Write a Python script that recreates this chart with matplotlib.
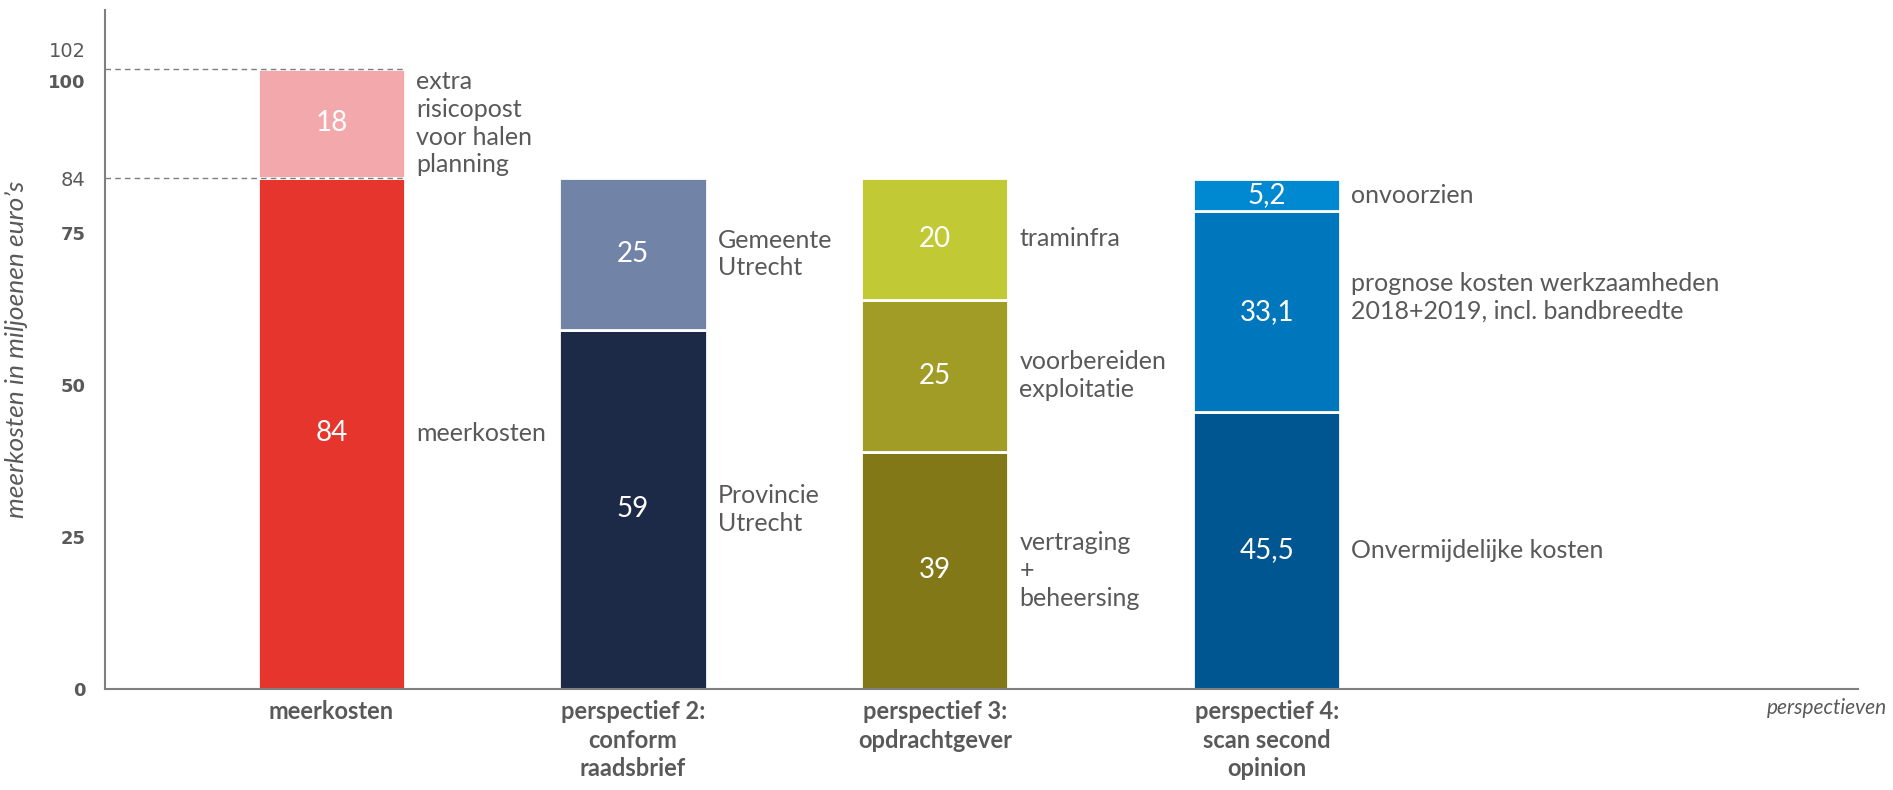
import numpy as np
import matplotlib.pyplot as plt

plt.close("all")

# categories on the x axis
categories = ["meerkosten", "perspectief 2:\nconform\nraadsbrief",
              "perspectief 3:\nopdrachtgever", "perspectief 4:\nscan second\nopinion"]

# stacked segments per bar (bottom -> top)
vals_meer = [84, 18]
vals_p2 = [59, 25]
vals_p3 = [39, 25, 20]
vals_p4 = [45.5, 33.1, 5.2]

txt_meer = ["84", "18"]
txt_p2 = ["59", "25"]
txt_p3 = ["39", "25", "20"]
txt_p4 = ["45,5", "33,1", "5,2"]

lab_meer = ["meerkosten", "extra\nrisicopost\nvoor halen\nplanning"]
lab_p2 = ["Provincie\nUtrecht", "Gemeente\nUtrecht"]
lab_p3 = ["vertraging\n+\nbeheersing", "voorbereiden\nexploitatie", "traminfra"]
lab_p4 = ["Onvermijdelijke kosten", "prognose kosten werkzaamheden\n2018+2019, incl. bandbreedte", "onvoorzien"]

col_meer = ["#E5352D", "#F3A8AB"]
col_p2 = ["#1C2A47", "#7283A8"]
col_p3 = ["#837817", "#A09C25", "#C1C935"]
col_p4 = ["#005691", "#0077BC", "#0088D1"]

yticks = [0, 25, 50, 75, 84, 100]
ref_lines = [84, 102]

xpos = [0, 1, 2, 3.1]
width = 0.488
grey = "#595959"
lab_font = "Lato"

fig = plt.figure(figsize=(18.93, 7.9), dpi=100)
ax = fig.add_axes([0.0555, 0.128, 0.926, 0.859])

bars = [(vals_meer, txt_meer, lab_meer, col_meer),
        (vals_p2, txt_p2, lab_p2, col_p2),
        (vals_p3, txt_p3, lab_p3, col_p3),
        (vals_p4, txt_p4, lab_p4, col_p4)]

for x, (vals, txts, labs, cols) in zip(xpos, bars):
    bottom = 0
    for v, t, l, c in zip(vals, txts, labs, cols):
        ax.bar(x, v, width, bottom=bottom, color=c, edgecolor="white", linewidth=2, zorder=2)
        mid = bottom + v / 2
        ax.text(x, mid, t, color="white", fontsize=20, ha="center", va="center",
                family=lab_font, zorder=3)
        dy = 10 if l.startswith("prognose") else 0
        ax.annotate(l, xy=(x + width / 2, mid), xytext=(8, dy), textcoords="offset points",
                    ha="left", va="center", fontsize=18, color=grey, family=lab_font,
                    linespacing=1.25)
        bottom += v

ax.set_xlim(-0.75, 5.06)
ax.set_ylim(0, 111.6)

for y in ref_lines:
    ax.hlines(y, -0.75, xpos[0] + width / 2, colors="#7F7F7F", linestyles=(0, (4, 3)),
              linewidth=1, zorder=4)

ax.set_xticks(xpos)
ax.set_xticklabels(categories, fontsize=17, fontweight="bold", color=grey,
                   family=lab_font, linespacing=1.3)
ax.set_yticks(yticks)
ax.set_yticklabels([str(v) for v in yticks], fontsize=13, color=grey, family="DejaVu Sans")
for lbl, v in zip(ax.get_yticklabels(), yticks):
    if v == 84:
        lbl.set_fontweight("normal")
        lbl.set_fontsize(14)
    else:
        lbl.set_fontweight("bold")
ax.tick_params(axis="y", length=0, pad=14)
ax.tick_params(axis="x", length=0, pad=8)

ax.annotate("102", xy=(0, 102), xycoords=ax.get_yaxis_transform(), xytext=(-14, 12),
            textcoords="offset points", ha="right", va="center", fontsize=14,
            color=grey, family="DejaVu Sans")

for s in ["top", "right"]:
    ax.spines[s].set_visible(False)
for s in ["left", "bottom"]:
    ax.spines[s].set_color("#7F7F7F")
    ax.spines[s].set_linewidth(1.5)

ax.set_ylabel("meerkosten in miljoenen euro\u2019s", fontsize=19, style="italic",
              color=grey, family=lab_font)
ax.yaxis.set_label_coords(-0.044, 0.5)

fig.text(0.9968, 0.104, "perspectieven", fontsize=15, style="italic", color=grey,
         family=lab_font, ha="right", va="center")

plt.savefig("out.png", dpi=100)
